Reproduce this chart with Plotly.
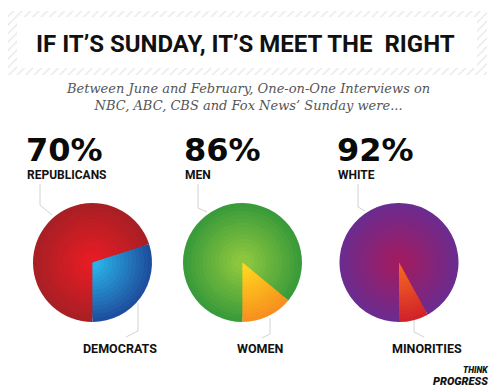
import plotly.graph_objects as go

# ---- data ----
groups = ["Republicans vs Democrats", "Men vs Women", "White vs Minorities"]
majority_labels = ["REPUBLICANS", "MEN", "WHITE"]
minority_labels = ["DEMOCRATS", "WOMEN", "MINORITIES"]
majority_pct = [70, 86, 92]
minority_pct = [30, 14, 8]

# ---- styles ----
OFF = 8            # default page body margin
FW, FH = 492, 384
maj_edge = ["#a81f24", "#3a9b3a", "#6c2b8e"]
maj_center = ["#e61c24", "#8cc63f", "#a01c62"]
min_edge = ["#1e4f9f", "#f7901e", "#d2232a"]
min_center = ["#2ab0e6", "#ffd51f", "#f26522"]
pie_cx = [92.5, 242.5, 399]
pie_cy = 262.5
pie_r = 59.5
label_x = [27, 185, 338]
bottom_label_x = [83, 237, 392]


def hex2rgb(h):
    h = h.lstrip("#")
    return tuple(int(h[i:i + 2], 16) for i in (0, 2, 4))


def mix(a, b, t):
    ra, rb = hex2rgb(a), hex2rgb(b)
    return "rgb(%d,%d,%d)" % tuple(round(ra[k] + (rb[k] - ra[k]) * t) for k in range(3))


fig = go.Figure()

# hatched frame around title (decoration)
fx = [7, 487, 487, 7, 7, None, 7, 487, 487, 7, 7, None,
      7, 17, 17, 7, 7, None, 477, 487, 487, 477, 477]
fy = [11, 11, 17, 17, 11, None, 68, 68, 75, 75, 68, None,
      17, 17, 68, 68, 17, None, 17, 17, 68, 68, 17]
fig.add_trace(go.Scatter(
    x=fx, y=fy, mode="lines", fill="toself", line=dict(width=0),
    fillcolor="white",
    fillpattern=dict(shape="/", fgcolor="#cccccc", bgcolor="white", size=6, solidity=0.2),
    hoverinfo="skip", showlegend=False))

# pies with layered radial shading
N = 14
for i in range(3):
    for k in range(N):
        t = k / (N - 1)
        r = pie_r * (1 - 0.93 * k / N)
        cx, cy = pie_cx[i], pie_cy
        fig.add_trace(go.Pie(
            values=[majority_pct[i], minority_pct[i]],
            labels=[majority_labels[i], minority_labels[i]],
            sort=False, direction="clockwise", rotation=180,
            textinfo="none", hoverinfo="label+percent",
            marker=dict(colors=[mix(maj_edge[i], maj_center[i], t),
                                mix(min_edge[i], min_center[i], t)],
                        line=dict(width=0)),
            domain=dict(x=[(cx - r - OFF) / FW, (cx + r - OFF) / FW],
                        y=[1 - (cy + r - OFF) / FH, 1 - (cy - r - OFF) / FH]),
            showlegend=False))

line_col = "#d2d2d2"
shapes = []
top_paths = [
    "M 40 184 L 40 205 L 52 215",
    "M 198 184 L 198 208 L 207 212",
    "M 358 184 L 358 207 L 365 211",
]
bottom_paths = [
    "M 138 303 L 138 331 L 126 337",
    "M 270 318 L 270 334 L 262 338",
    "M 414 320 L 414 332 L 424 337",
]
for p in top_paths + bottom_paths:
    shapes.append(dict(type="path", path=p, xref="x", yref="y",
                       line=dict(color=line_col, width=1), layer="below"))

annotations = []
annotations.append(dict(
    x=245.5, y=44, xref="x", yref="y", showarrow=False,
    text="IF IT\u2019S SUNDAY, IT\u2019S MEET THE  RIGHT",
    font=dict(family="Roboto", size=24, color="#111111", weight="bold"),
    xanchor="center", yanchor="middle"))
annotations.append(dict(
    x=248, y=97, xref="x", yref="y", showarrow=False,
    text="Between June and February, One-on-One Interviews on<br>NBC, ABC, CBS and Fox News\u2019 Sunday were...",
    font=dict(family="DejaVu Serif", size=13, color="#555555", style="italic"),
    xanchor="center", yanchor="middle", align="center"))

for i in range(3):
    annotations.append(dict(
        x=label_x[i] - 3, y=150, xref="x", yref="y", showarrow=False,
        text="%d%%" % majority_pct[i],
        font=dict(family="DejaVu Sans", size=32, color="#0a0a0a", weight="bold"),
        xanchor="left", yanchor="middle"))
    annotations.append(dict(
        x=label_x[i] - 2, y=175, xref="x", yref="y", showarrow=False,
        text=majority_labels[i],
        font=dict(family="Roboto", size=12, color="#111111", weight="bold"),
        xanchor="left", yanchor="middle"))
    annotations.append(dict(
        x=bottom_label_x[i] - 2, y=348, xref="x", yref="y", showarrow=False,
        text=minority_labels[i],
        font=dict(family="Roboto", size=12.5, color="#111111", weight="bold"),
        xanchor="left", yanchor="middle"))

annotations.append(dict(
    x=4, y=378, xref="x", yref="y", showarrow=False,
    text="Source: Fairness & Accuracy in Reporting",
    font=dict(family="Open Sans", size=8, color="#8a8a8a", style="italic"),
    xanchor="left", yanchor="middle"))
annotations.append(dict(
    x=491, y=370, xref="x", yref="y", showarrow=False,
    text="THINK",
    font=dict(family="Roboto", size=8.5, color="#111111", weight=900, style="italic"),
    xanchor="right", yanchor="middle"))
annotations.append(dict(
    x=490, y=381, xref="x", yref="y", showarrow=False,
    text="PROGRESS",
    font=dict(family="Roboto", size=11, color="#111111", weight=900, style="italic"),
    xanchor="right", yanchor="middle"))

fig.update_layout(
    width=FW, height=FH, margin=dict(l=0, r=0, t=0, b=0),
    paper_bgcolor="white", plot_bgcolor="white",
    xaxis=dict(range=[OFF, OFF + FW], visible=False, fixedrange=True, domain=[0, 1]),
    yaxis=dict(range=[OFF + FH, OFF], visible=False, fixedrange=True, domain=[0, 1]),
    shapes=shapes, annotations=annotations, showlegend=False)

fig.write_html("out.html")
